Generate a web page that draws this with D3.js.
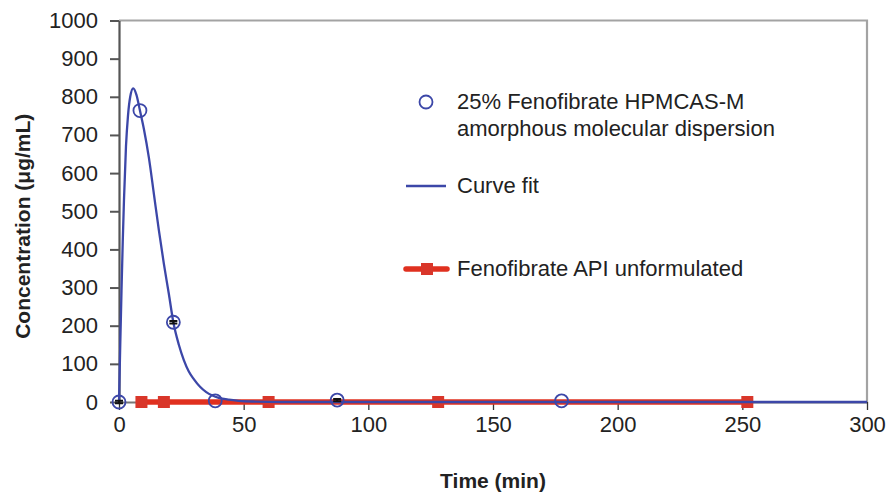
<!DOCTYPE html>
<html><head><meta charset="utf-8">
<script src="https://cdn.jsdelivr.net/npm/d3@7/dist/d3.min.js"></script>
<style>body{margin:0;background:#fff}svg{display:block}text{font-family:"Liberation Sans",Arial,sans-serif}</style>
</head><body><svg id="c" width="886" height="493"></svg>
<script>
// Measured dispersion data (time in min, concentration in µg/mL)
const dispTime = [0, 8.4, 21.8, 38.6, 87.5, 177.5];
const dispConc = [0, 764, 209, 3, 5, 3];
const dispErr  = [3, 0, 3, 0, 3, 0];
// Curve fit
const fitTime = [0, 0.5, 1, 1.5, 2, 2.8, 3.6, 4.5, 5.7, 7, 8.4, 10, 12, 14, 16, 18, 20, 21.8, 24, 26, 28, 30, 32.5, 35, 37.5, 40, 44, 48, 55, 65, 300];
const fitConc = [0, 150, 290, 420, 530, 670, 750, 800, 822, 805, 764, 715, 640, 545, 450, 362, 283, 209, 150, 110, 80, 60, 40, 26, 17, 11, 6, 3, 1, 0, 0];
// Unformulated API
const apiTime = [9, 18, 60, 128, 252];
const apiConc = [0, 0, 0, 0, 0];
const xTicks = [0, 50, 100, 150, 200, 250, 300];
const yTicks = [0, 100, 200, 300, 400, 500, 600, 700, 800, 900, 1000];
const legendLabels = ["25% Fenofibrate HPMCAS-M", "amorphous molecular dispersion", "Curve fit", "Fenofibrate API unformulated"];

const BLUE = "#3c47a8", RED = "#e0301f";
const FS = 22;
const svg = d3.select("#c");
const x = d3.scaleLinear().domain([0, 300]).range([119, 867]);
const y = d3.scaleLinear().domain([0, 1000]).range([402, 20.5]);

// frame top/right
svg.append("path").attr("d", `M${x(0)},${y(1000)}H${x(300)}V${y(0)}`)
  .attr("fill", "none").attr("stroke", "#a3a3a3").attr("stroke-width", 2.2);

// x axis
const gx = svg.append("g").attr("transform", `translate(0,${y(0)})`)
  .call(d3.axisBottom(x).tickValues(xTicks).tickFormat(d3.format("d")).tickSize(8).tickPadding(6).tickSizeOuter(0));
gx.select(".domain").attr("stroke", "#777").attr("stroke-width", 2);
gx.selectAll(".tick line").attr("stroke", "#333").attr("stroke-width", 1.3);
gx.selectAll("text").attr("font-size", FS).attr("fill", "#222").attr("font-family", "Liberation Sans, Arial, sans-serif");

// y axis
const gy = svg.append("g").attr("transform", `translate(${x(0)},0)`)
  .call(d3.axisLeft(y).tickValues(yTicks).tickFormat(d3.format("d")).tickSize(9).tickPadding(12).tickSizeOuter(0));
gy.select(".domain").attr("stroke", "#555").attr("stroke-width", 2.2);
gy.selectAll(".tick line").attr("stroke", "#555").attr("stroke-width", 2);
gy.selectAll("text").attr("font-size", FS).attr("fill", "#222").attr("font-family", "Liberation Sans, Arial, sans-serif");

// titles
svg.append("text").attr("x", x(150)).attr("y", 488).attr("text-anchor", "middle")
  .attr("font-weight", "bold").attr("font-size", 21).attr("fill", "#222").text("Time (min)");
svg.append("text").attr("transform", `translate(30,${(y(0)+y(1000))/2 + 15}) rotate(-90)`).attr("text-anchor", "middle")
  .attr("font-weight", "bold").attr("font-size", 21).attr("fill", "#222").text("Concentration (\u03bcg/mL)");

// API line
const apiData = apiTime.map((t, i) => [t, apiConc[i]]);
svg.append("path").datum(apiData).attr("fill", "none").attr("stroke", RED).attr("stroke-width", 5.5)
  .attr("d", d3.line().x(d => x(d[0])).y(d => y(d[1])));
svg.selectAll(".sq").data(apiData).join("rect").attr("class", "sq")
  .attr("x", d => x(d[0]) - 6).attr("y", d => y(d[1]) - 6).attr("width", 12).attr("height", 12)
  .attr("fill", "#d9362a");

// curve fit
const fitData = fitTime.map((t, i) => [t, fitConc[i]]);
svg.append("path").datum(fitData).attr("fill", "none").attr("stroke", BLUE).attr("stroke-width", 2.3)
  .attr("d", d3.line().x(d => x(d[0])).y(d => y(d[1])).curve(d3.curveMonotoneX));

// error bars
const dispData = dispTime.map((t, i) => ({t, c: dispConc[i], e: dispErr[i]}));
const eb = svg.selectAll(".eb").data(dispData.filter(d => d.e > 0)).join("g").attr("class", "eb");
eb.append("path").attr("d", d => `M${x(d.t)-4},${y(d.c+d.e)}h8M${x(d.t)-4},${y(d.c-d.e)}h8M${x(d.t)},${y(d.c+d.e)}V${y(d.c-d.e)}`)
  .attr("stroke", "#111").attr("stroke-width", 2);

// circles
svg.selectAll(".pt").data(dispData).join("circle").attr("class", "pt")
  .attr("cx", d => x(d.t)).attr("cy", d => y(d.c)).attr("r", 6.5)
  .attr("fill", "none").attr("stroke", BLUE).attr("stroke-width", 1.8);

// legend
const lg = svg.append("g");
lg.append("circle").attr("cx", 426).attr("cy", 102).attr("r", 6.5).attr("fill", "none").attr("stroke", BLUE).attr("stroke-width", 1.8);
lg.append("text").attr("x", 457).attr("y", 109).attr("font-size", FS).attr("fill", "#222").text(legendLabels[0]);
lg.append("text").attr("x", 457).attr("y", 136).attr("font-size", FS).attr("fill", "#222").text(legendLabels[1]);
lg.append("line").attr("x1", 406).attr("x2", 446).attr("y1", 186).attr("y2", 186).attr("stroke", BLUE).attr("stroke-width", 2.3);
lg.append("text").attr("x", 457).attr("y", 193).attr("font-size", FS).attr("fill", "#222").text(legendLabels[2]);
lg.append("line").attr("x1", 406).attr("x2", 447).attr("y1", 269).attr("y2", 269).attr("stroke", RED).attr("stroke-width", 5.5).attr("stroke-linecap", "round");
lg.append("rect").attr("x", 421).attr("y", 263).attr("width", 12).attr("height", 12).attr("fill", "#d9362a");
lg.append("text").attr("x", 457).attr("y", 276).attr("font-size", FS).attr("fill", "#222").text(legendLabels[3]);
</script></body></html>
